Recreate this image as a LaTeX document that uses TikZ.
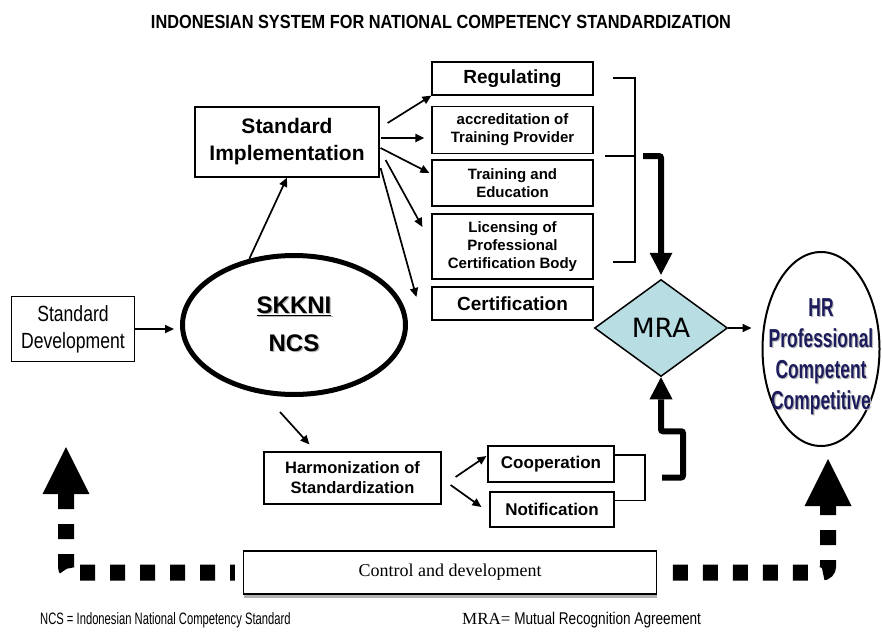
\documentclass[tikz,border=0pt]{standalone}
\usepackage{fontspec}
\setmainfont{Liberation Sans}
\newfontfamily\serifff{Liberation Serif}
\newfontfamily\narrowf[FakeStretch=0.8]{Liberation Sans}
\newfontfamily\notef[FakeStretch=0.68]{Liberation Sans}
\newfontfamily\titlef[FakeStretch=0.86]{Liberation Sans}
\newfontfamily\hrf[FakeStretch=0.67]{Liberation Sans}
\newfontfamily\tahomaf{DejaVu Sans}
\usetikzlibrary{
  arrows.meta,
  shapes.geometric,
  calc,
  shadows
}
\definecolor{mrablue}{RGB}{184,222,227}
\definecolor{hrnavy}{RGB}{28,28,92}
\tikzset{
  stdbox/.style={draw, line width=1.2pt, fill=white,
    align=center, inner sep=0pt},
  arr/.style={-{Triangle[length=9pt,width=8pt]}, line width=1.7pt},
  fatarr/.style={-{Triangle[length=22pt,width=23pt,line width=0pt]},
    line width=6pt, rounded corners=2pt},
  dotarr/.style={{Triangle[length=47pt,width=47pt,line width=0pt]}-,
    line width=16pt, dash pattern=on 15pt off 15pt, rounded corners=6pt},
  brk/.style={line width=1.5pt},
}
\newcommand{\shadowtxt}[1]{\makebox[0pt][l]{\kern1.2pt\raisebox{-1.2pt}{\textcolor{gray!55}{#1}}}#1}

\begin{document}
\begin{tikzpicture}[x=1pt, y=-1pt,
  bigbox/.style={stdbox, minimum width=161pt,
    font=\bfseries\fontsize{19}{22}\selectfont},
  smallbox/.style={stdbox, minimum width=161pt,
    font=\bfseries\fontsize{15}{18}\selectfont}
]
  \useasboundingbox (0,0) rectangle (882,634);
  \fill[white] (0,0) rectangle (882,634);

  % Title
  \node[font=\titlef\bfseries\fontsize{19}{22}\selectfont] (title) at (441,22)
    {INDONESIAN SYSTEM FOR NATIONAL COMPETENCY STANDARDIZATION};

  % Core
  \node[stdbox, minimum width=123pt, minimum height=65pt,
        font=\narrowf\fontsize{22}{27}\selectfont] (sd) at (73,329)
    {Standard\\Development};
  \node[ellipse, draw, line width=5pt, minimum width=223pt, minimum height=139pt,
        inner sep=0pt, align=center, font=\bfseries\fontsize{24}{38}\selectfont] (skkni) at (294,325)
    {\shadowtxt{\underline{SKKNI}}\\\shadowtxt{NCS}};
  \node[stdbox, minimum width=184pt, minimum height=70pt,
        font=\bfseries\fontsize{21}{27}\selectfont] (si) at (287,142)
    {Standard\\Implementation};

  % Implementation boxes
  \node[bigbox, minimum height=33pt] (reg) at (512.5,78.5) {Regulating};
  \node[smallbox, minimum height=47pt] (acc) at (512.5,130) {accreditation of\\Training Provider};
  \node[smallbox, minimum height=46pt] (tre) at (512.5,183) {Training and\\Education};
  \node[smallbox, minimum height=65pt] (lic) at (512.5,246.5) {Licensing of\\Professional\\Certification Body};
  \node[bigbox, minimum height=33pt] (cert) at (512.5,303.5) {Certification};

  % MRA and HR
  \node[diamond, draw, line width=1.5pt, fill=mrablue, minimum width=133pt,
        minimum height=97pt, inner sep=0pt,
        font=\tahomaf\fontsize{26.5}{30}\selectfont] (mra) at (661,328) {MRA};
  \node[ellipse, draw, line width=2pt, minimum width=117pt, minimum height=194pt,
        inner xsep=-12pt, inner ysep=0pt, text=hrnavy,
        font=\hrf\bfseries\fontsize{26}{31}\selectfont] (hr) at (821,349)
    {\raisebox{-8pt}[\height][\depth]{\renewcommand{\arraystretch}{1}\begin{tabular}{@{}c@{}}
      \shadowtxt{HR}\\\shadowtxt{Professional}\\\shadowtxt{Competent}\\\shadowtxt{Competitive}
    \end{tabular}}};

  % Harmonization
  \node[stdbox, minimum width=177pt, minimum height=52pt,
        font=\bfseries\fontsize{16.5}{20}\selectfont] (harm) at (352.5,478)
    {Harmonization of\\Standardization};
  \node[stdbox, minimum width=126pt, minimum height=36pt,
        font=\bfseries\fontsize{17}{20}\selectfont] (coop) at (551,464) {Cooperation};
  \node[stdbox, minimum width=124pt, minimum height=35pt,
        font=\bfseries\fontsize{17}{20}\selectfont] (notif) at (552,509.5) {Notification};

  % Control
  \node[stdbox, minimum width=413pt, minimum height=43pt,
        font=\serifff\fontsize{18}{22}\selectfont,
        drop shadow={shadow xshift=0pt, shadow yshift=-4pt, fill=gray!60, opacity=1}] (ctrl) at (450,572.5)
    {Control and development};

  % Footnotes
  \node[anchor=west, inner sep=0pt, font=\notef\fontsize{16.5}{19}\selectfont] (ncsnote) at (40,620)
    {NCS = Indonesian National Competency Standard};
  \node[anchor=west, inner sep=0pt, font=\narrowf\fontsize{17}{20}\selectfont] (mranote) at (462,620)
    {{\serifff MRA=} Mutual Recognition Agreement};

  % Thin arrows
  \draw[arr, shorten >=6pt] (sd.east) -- (sd.east -| skkni.west);
  \draw[arr] (skkni.124) -- (si.south);
  \draw[arr] ($(si.east)+(8,-19)$) -- (reg.south west);
  \draw[arr, line width=2.6pt] ($(si.east)+(1,-4)$) -- ($(acc.west)+(-7,8)$);
  \draw[arr] ($(si.east)+(1,6)$) -- ($(tre.west)+(-2,-10)$);
  \draw[arr] ($(si.east)+(6,18)$) -- ($(lic.west)+(-9,-19.5)$);
  \draw[arr] ($(si.east)+(1,26)$) -- ($(cert.west)+(-15,-6.5)$);
  \draw[arr] ($(skkni.south)+(-14,15)$) -- ($(harm.north west)+(46,-7)$);
  \draw[arr] ($(harm.east)+(14,-1)$) -- ($(coop.west)+(-1,-8)$);
  \draw[arr] ($(harm.east)+(9,7)$) -- ($(notif.west)+(-8,-2.5)$);
  \draw[arr, shorten >=10pt] (mra.east) -- (mra.east -| hr.west);

  % Brackets
  \coordinate (brkmid) at (635,156);
  \coordinate (brkcn) at (645,477.5);
  \draw[brk] (613,78) -- (635,78) -- (635,262) -- (613,262);
  \draw[brk] (605,156) -- (brkmid);
  \draw[brk] ([yshift=9pt]coop.east) -| (brkcn) |- ([yshift=9pt]notif.east);

  % Thick arrows into MRA
  \draw[fatarr, shorten >=4pt] ($(brkmid)+(8,0)$) -| (mra.north);
  \draw[fatarr] ($(brkcn)+(17,0)$) -- ++(21,0) |- ($(mra.south)+(0,54)$) -- (mra.south);

  % Dotted feedback arrows
  \coordinate (upL) at (66,447);
  \coordinate (upR) at (828,459);
  \draw[dotarr, shorten >=8pt] (upL) -- (upL |- ctrl) -- (ctrl.west);
  \draw[dotarr, dash phase=6pt, shorten >=8pt] (upR) -- (upR |- ctrl) -- (ctrl.east);
\end{tikzpicture}
\end{document}
